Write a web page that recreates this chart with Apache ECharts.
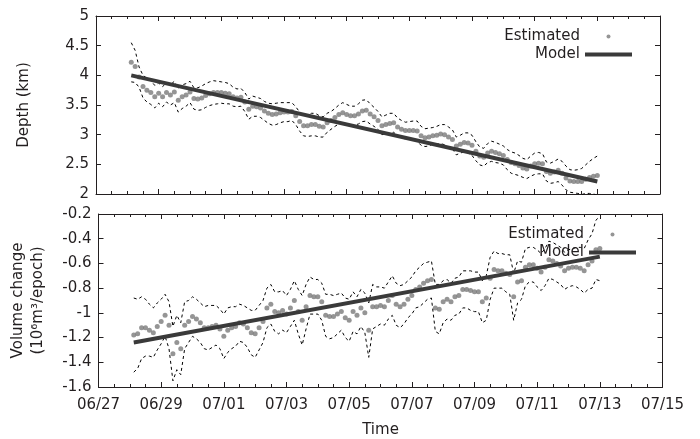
<!DOCTYPE html>
<html>
<head>
<meta charset="utf-8">
<script src="https://cdn.jsdelivr.net/npm/echarts@6/dist/echarts.min.js"></script>
<style>
html, body { margin: 0; padding: 0; background: #fff; }
#chart { width: 700px; height: 439px; }
</style>
</head>
<body>
<div id="chart"></div>
<script>
// samples every 3 hours, starting 06/28 03:00
var startTime = Date.UTC(2013, 5, 28, 3);
var stepMs = 3 * 3600 * 1000;
var dayMs = 24 * 3600 * 1000;
var axisMin = Date.UTC(2013, 5, 27);
var axisMax = Date.UTC(2013, 6, 15);

var depthEst = [
  4.22, 4.15, 3.97, 3.81, 3.75, 3.71, 3.64, 3.70, 3.64, 3.71, 3.67, 3.72, 3.58, 3.64, 3.67, 3.72, 3.61, 3.60, 3.62, 3.66,
  3.69, 3.71, 3.71, 3.71, 3.70, 3.69, 3.64, 3.62, 3.63, 3.55, 3.43, 3.48, 3.47, 3.45, 3.40, 3.36, 3.34, 3.35, 3.37, 3.38,
  3.38, 3.39, 3.32, 3.22, 3.15, 3.15, 3.17, 3.17, 3.14, 3.13, 3.20, 3.24, 3.29, 3.34, 3.37, 3.34, 3.32, 3.32, 3.35, 3.40,
  3.41, 3.35, 3.30, 3.24, 3.15, 3.17, 3.19, 3.20, 3.13, 3.09, 3.07, 3.07, 3.07, 3.06, 2.98, 2.95, 2.96, 2.98, 2.99, 3.01,
  3.00, 2.96, 2.92, 2.81, 2.84, 2.87, 2.86, 2.82, 2.72, 2.64, 2.62, 2.69, 2.72, 2.70, 2.68, 2.65, 2.58, 2.53, 2.51, 2.48,
  2.44, 2.42, 2.47, 2.51, 2.52, 2.51, 2.38, 2.35, 2.37, 2.40, 2.35, 2.27, 2.22, 2.21, 2.21, 2.21, 2.25, 2.28, 2.30, 2.31
];
var depthErr = [
  0.33, 0.27, 0.17, 0.19, 0.20, 0.20, 0.19, 0.17, 0.17, 0.16, 0.17, 0.18, 0.20, 0.20, 0.19, 0.18, 0.18, 0.19, 0.20, 0.20,
  0.20, 0.20, 0.19, 0.18, 0.18, 0.17, 0.16, 0.15, 0.15, 0.16, 0.17, 0.17, 0.16, 0.16, 0.16, 0.17, 0.18, 0.18, 0.17, 0.16,
  0.16, 0.15, 0.15, 0.16, 0.17, 0.18, 0.19, 0.19, 0.18, 0.17, 0.16, 0.15, 0.15, 0.16, 0.17, 0.17, 0.16, 0.16, 0.17, 0.18,
  0.18, 0.17, 0.16, 0.15, 0.15, 0.16, 0.17, 0.16, 0.15, 0.15, 0.14, 0.15, 0.16, 0.17, 0.16, 0.15, 0.15, 0.14, 0.15, 0.16,
  0.17, 0.17, 0.16, 0.15, 0.15, 0.16, 0.17, 0.17, 0.16, 0.15, 0.15, 0.16, 0.17, 0.17, 0.16, 0.16, 0.17, 0.18, 0.18, 0.17,
  0.16, 0.16, 0.17, 0.18, 0.18, 0.17, 0.16, 0.17, 0.18, 0.19, 0.20, 0.20, 0.19, 0.19, 0.20, 0.22, 0.24, 0.27, 0.30, 0.33
];
var volEst = [
  -1.18, -1.17, -1.12, -1.12, -1.14, -1.16, -1.11, -1.07, -1.02, -1.10,
  -1.33, -1.24, -1.29, -1.10, -1.07, -1.03, -1.05, -1.08, -1.12, -1.12,
  -1.11, -1.10, -1.13, -1.19, -1.14, -1.12, -1.11, -1.08, -1.09, -1.12,
  -1.16, -1.17, -1.12, -1.07, -0.96, -0.93, -0.99, -1.00, -0.98, -1.01,
  -0.96, -0.90, -0.99, -1.06, -0.95, -0.86, -0.87, -0.87, -0.91, -1.02,
  -1.03, -1.03, -1.01, -0.99, -1.04, -1.06, -0.99, -1.02, -0.96, -1.00,
  -1.14, -0.95, -0.95, -0.94, -0.95, -0.90, -0.86, -0.93, -0.95, -0.93,
  -0.89, -0.86, -0.81, -0.79, -0.76, -0.74, -0.73, -0.96, -0.97, -0.91,
  -0.89, -0.91, -0.87, -0.86, -0.81, -0.81, -0.82, -0.83, -0.83, -0.91,
  -0.88, -0.72, -0.65, -0.66, -0.66, -0.68, -0.69, -0.87, -0.75, -0.74,
  -0.63, -0.61, -0.61, -0.64, -0.67, -0.63, -0.57, -0.58, -0.60, -0.62,
  -0.66, -0.64, -0.63, -0.63, -0.64, -0.66, -0.61, -0.58, -0.49, -0.48
];
var volErr = [
  0.30, 0.28, 0.25, 0.23, 0.21, 0.20, 0.19, 0.18, 0.17, 0.19,
  0.22, 0.22, 0.21, 0.19, 0.17, 0.16, 0.16, 0.16, 0.17, 0.18,
  0.17, 0.16, 0.16, 0.18, 0.18, 0.17, 0.16, 0.15, 0.15, 0.16,
  0.18, 0.19, 0.18, 0.17, 0.16, 0.16, 0.16, 0.17, 0.16, 0.15,
  0.15, 0.16, 0.18, 0.20, 0.18, 0.15, 0.14, 0.14, 0.15, 0.17,
  0.18, 0.17, 0.16, 0.15, 0.16, 0.17, 0.16, 0.15, 0.15, 0.16,
  0.22, 0.18, 0.16, 0.15, 0.15, 0.15, 0.16, 0.17, 0.17, 0.16,
  0.15, 0.15, 0.15, 0.16, 0.16, 0.15, 0.15, 0.19, 0.20, 0.17,
  0.16, 0.15, 0.15, 0.15, 0.15, 0.15, 0.16, 0.16, 0.16, 0.17,
  0.18, 0.17, 0.15, 0.14, 0.14, 0.15, 0.16, 0.19, 0.17, 0.15,
  0.15, 0.14, 0.14, 0.15, 0.15, 0.15, 0.15, 0.15, 0.15, 0.15,
  0.15, 0.15, 0.15, 0.16, 0.17, 0.18, 0.20, 0.22, 0.24, 0.26
];
// straight-line model, value at first and last sample
var depthModel = [4.0, 2.21];
var volModel = [-1.24, -0.545];

var ink = '#231f20';
var font = 'DejaVu Sans';

function times(n) {
  var t = [];
  for (var i = 0; i < n; i++) t.push(startTime + i * stepMs);
  return t;
}
var tt = times(depthEst.length);
var tEnd = tt[tt.length - 1];

function pts(vals, errs, sign) {
  return vals.map(function (v, i) {
    return [tt[i], errs ? +(v + sign * errs[i]).toFixed(3) : v];
  });
}

function pad(n) { return (n < 10 ? '0' : '') + n; }
function fmtDate(v) {
  var d = new Date(v);
  return pad(d.getUTCMonth() + 1) + '/' + pad(d.getUTCDate());
}

function xAx(grid, pos, labels) {
  return {
    type: 'value', gridIndex: grid, position: pos,
    min: axisMin, max: axisMax, interval: 2 * dayMs,
    axisLine: { show: true, onZero: false, lineStyle: { color: ink, width: 1 } },
    axisTick: { show: true, inside: true, length: 5, lineStyle: { color: ink } },
    minorTick: { show: true, splitNumber: 4, length: 3, lineStyle: { color: ink } },
    splitLine: { show: false },
    axisLabel: { show: labels, formatter: fmtDate, color: ink, fontSize: 15, fontFamily: font, margin: 11 }
  };
}
function yAx(grid, pos, min, max, step, labels) {
  return {
    type: 'value', gridIndex: grid, position: pos,
    min: min, max: max, interval: step,
    axisLine: { show: true, onZero: false, lineStyle: { color: ink, width: 1 } },
    axisTick: { show: true, inside: true, length: 5, lineStyle: { color: ink } },
    splitLine: { show: false },
    axisLabel: { show: labels, color: ink, fontSize: 15, fontFamily: font, margin: 7 }
  };
}

var xAxes = [xAx(0, 'bottom', false), xAx(0, 'top', false), xAx(1, 'bottom', true), xAx(1, 'top', false)];
xAxes[2].name = 'Time';
xAxes[2].nameLocation = 'middle';
xAxes[2].nameGap = 36;
xAxes[2].nameTextStyle = { color: ink, fontSize: 15, fontFamily: font };

var yAxes = [
  yAx(0, 'left', 2, 5, 0.5, true), yAx(0, 'right', 2, 5, 0.5, false),
  yAx(1, 'left', -1.6, -0.2, 0.2, true), yAx(1, 'right', -1.6, -0.2, 0.2, false)
];
yAxes[0].name = 'Depth (km)';
yAxes[0].nameLocation = 'middle';
yAxes[0].nameGap = 64;
yAxes[0].nameTextStyle = { color: ink, fontSize: 15, fontFamily: font };
yAxes[2].name = 'Volume change\n(10\u2076m\u00b3/epoch)';
yAxes[2].nameLocation = 'middle';
yAxes[2].nameGap = 50;
yAxes[2].nameTextStyle = { color: ink, fontSize: 15, fontFamily: font, lineHeight: 20 };

function bound(name, data, xi, yi) {
  return {
    name: name, type: 'line', xAxisIndex: xi, yAxisIndex: yi, data: data,
    symbol: 'none', silent: true,
    lineStyle: { color: '#000', width: 1, type: [3, 3] }
  };
}
function dots(data, xi, yi) {
  return {
    name: 'Estimated', type: 'scatter', xAxisIndex: xi, yAxisIndex: yi, data: data,
    symbol: 'circle', symbolSize: 5, itemStyle: { color: '#7a7a7a' }
  };
}
function model(vals, xi, yi) {
  return {
    name: 'Model', type: 'line', xAxisIndex: xi, yAxisIndex: yi,
    data: [[startTime, vals[0]], [tEnd, vals[1]]],
    symbol: 'none', showSymbol: false,
    lineStyle: { color: '#3a3a3a', width: 4 }, itemStyle: { color: '#3a3a3a' }
  };
}

function legend(right, top) {
  return {
    orient: 'vertical', align: 'right', right: right, top: top,
    itemWidth: 47, itemHeight: 4, itemGap: 3, selectedMode: false,
    data: [
      { name: 'Estimated', icon: 'circle' },
      { name: 'Model', icon: 'rect' }
    ],
    textStyle: { color: ink, fontSize: 15, fontFamily: font }
  };
}

var chart = echarts.init(document.getElementById('chart'));
chart.setOption({
  animation: false,
  textStyle: { fontFamily: font },
  grid: [
    { left: 96, width: 564, top: 16, height: 178, show: false },
    { left: 98.5, width: 564, top: 214, height: 174, show: false }
  ],
  legend: [legend(63, 24), legend(59, 222)],
  xAxis: xAxes,
  yAxis: yAxes,
  series: [
    bound('depthUpper', pts(depthEst, depthErr, 1), 0, 0),
    bound('depthLower', pts(depthEst, depthErr, -1), 0, 0),
    dots(pts(depthEst), 0, 0),
    model(depthModel, 0, 0),
    bound('volUpper', pts(volEst, volErr, 1), 2, 2),
    bound('volLower', pts(volEst, volErr, -1), 2, 2),
    dots(pts(volEst), 2, 2),
    model(volModel, 2, 2)
  ]
});
</script>
</body>
</html>
